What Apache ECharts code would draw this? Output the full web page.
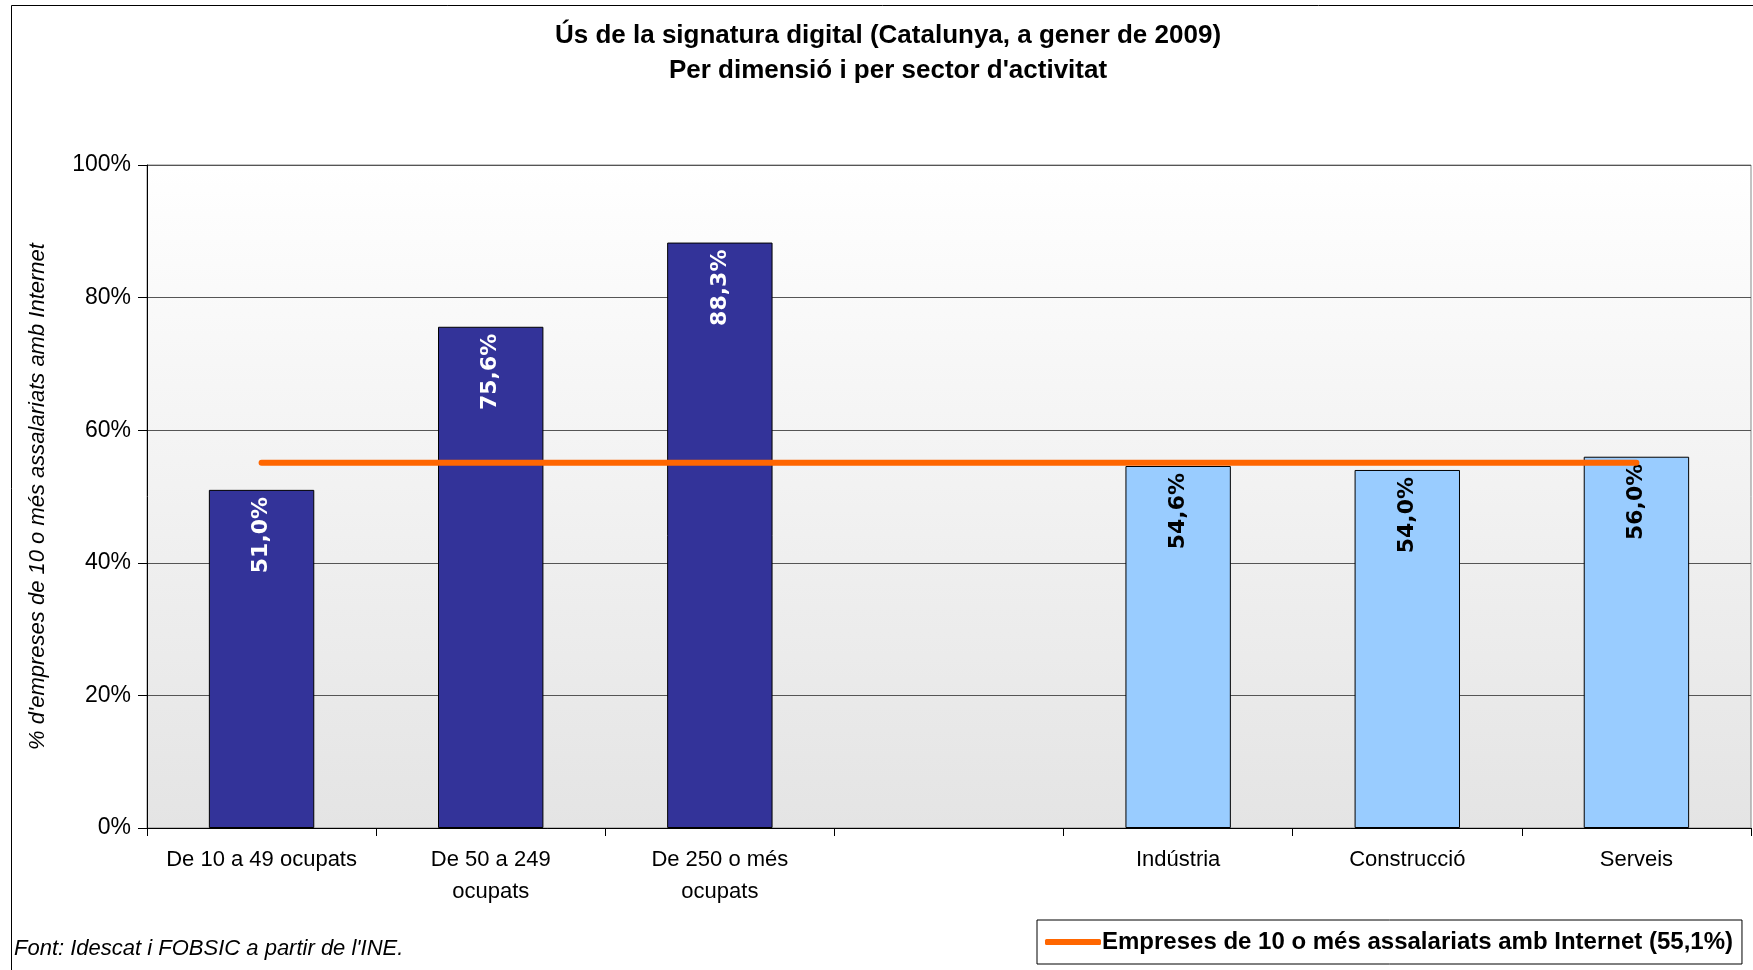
<!DOCTYPE html>
<html>
<head>
<meta charset="utf-8">
<script src="https://cdn.jsdelivr.net/npm/echarts@6/dist/echarts.min.js"></script>
<style>html,body{margin:0;padding:0;background:#fff;}#c{width:1753px;height:970px;}</style>
</head>
<body>
<div id="c"></div>
<script>
const categories = ['De 10 a 49 ocupats', 'De 50 a 249\nocupats', 'De 250 o més\nocupats', '', 'Indústria', 'Construcció', 'Serveis'];
const sizeValues = [51.0, 75.6, 88.3, '-', '-', '-', '-'];
const sectorValues = ['-', '-', '-', '-', 54.6, 54.0, 56.0];
const internetValues = [55.1, 55.1, 55.1, 55.1, 55.1, 55.1, 55.1];
const yTicks = [0, 20, 40, 60, 80, 100];
const titleText = 'Ús de la signatura digital (Catalunya, a gener de 2009)\nPer dimensió i per sector d\'activitat';
const yName = '% d\'empreses de 10 o més assalariats amb Internet';
const lineName = 'Empreses de 10 o més assalariats amb Internet (55,1%)';
const sourceText = 'Font: Idescat i FOBSIC a partir de l\'INE.';

const chart = echarts.init(document.getElementById('c'));
const fmt = p => p.value.toFixed(1).replace('.', ',') + '%';
const labelBase = {
  show: true, position: 'insideTop', rotate: 90, align: 'right', verticalAlign: 'middle',
  distance: 7, fontFamily: 'DejaVu Sans', fontWeight: 'bold', fontSize: 22, formatter: fmt
};
chart.setOption({
  animation: false,
  backgroundColor: '#fff',
  title: {
    text: titleText, left: 883, textAlign: 'center', top: 13,
    textStyle: { fontFamily: 'Liberation Sans', fontWeight: 'bold', fontSize: 26, lineHeight: 35, color: '#000' }
  },
  graphic: [
    { type: 'rect', shape: { x: 11.5, y: 5.5, width: 1800, height: 1000 }, style: { fill: null, stroke: '#000', lineWidth: 1 }, silent: true, z: -10 },
    { type: 'text', left: 14, top: 938, style: { text: sourceText, font: 'italic 22px "Liberation Sans"', fill: '#000' } }
  ],
  grid: {
    left: 147, right: 2, top: 165, bottom: 142, show: true, borderColor: '#888', borderWidth: 1,
    backgroundColor: new echarts.graphic.LinearGradient(0, 0, 0, 1, [{ offset: 0, color: '#ffffff' }, { offset: 1, color: '#e4e4e4' }])
  },
  legend: {
    left: 1037, top: 920, width: 710, data: [lineName],
    borderColor: '#000', borderWidth: 1, backgroundColor: '#fff', padding: [10, 9, 10, 8],
    icon: 'roundRect', itemWidth: 56, itemHeight: 6,
    textStyle: { fontFamily: 'Liberation Sans', fontWeight: 'bold', fontSize: 24, color: '#000', padding: [0, 0, 0, -4] }
  },
  xAxis: {
    type: 'category', data: categories,
    axisLine: { lineStyle: { color: '#000', width: 1 } },
    axisTick: { show: true, length: 8, lineStyle: { color: '#000' } },
    axisLabel: { color: '#000', fontFamily: 'Liberation Sans', fontSize: 22, lineHeight: 32, margin: 16, interval: 0 }
  },
  yAxis: {
    type: 'value', min: 0, max: 100, interval: 20,
    name: yName, nameLocation: 'middle', nameRotate: 90, nameGap: 98,
    nameTextStyle: { fontFamily: 'Liberation Sans', fontStyle: 'italic', fontSize: 22, color: '#000' },
    axisLine: { show: true, lineStyle: { color: '#000', width: 1 } },
    axisTick: { show: true, length: 9, lineStyle: { color: '#000' } },
    axisLabel: { color: '#000', fontFamily: 'Liberation Sans', fontSize: 23, margin: 16,
      formatter: v => (yTicks.indexOf(v) >= 0 ? v + '%' : '') },
    splitLine: { lineStyle: { color: '#555', width: 1 } }
  },
  series: [
    { name: 'size', type: 'bar', stack: 'a', data: sizeValues, barWidth: '46%',
      itemStyle: { color: '#333399', borderColor: '#000', borderWidth: 1 },
      label: Object.assign({}, labelBase, { color: '#fff' }) },
    { name: 'sector', type: 'bar', stack: 'a', data: sectorValues, barWidth: '46%',
      itemStyle: { color: '#99CCFF', borderColor: '#000', borderWidth: 1 },
      label: Object.assign({}, labelBase, { color: '#000' }) },
    { name: lineName, type: 'line', data: internetValues, symbol: 'none', z: 5,
      lineStyle: { color: '#FF6600', width: 6, cap: 'round' }, itemStyle: { color: '#FF6600' } }
  ]
});
</script>
</body>
</html>
